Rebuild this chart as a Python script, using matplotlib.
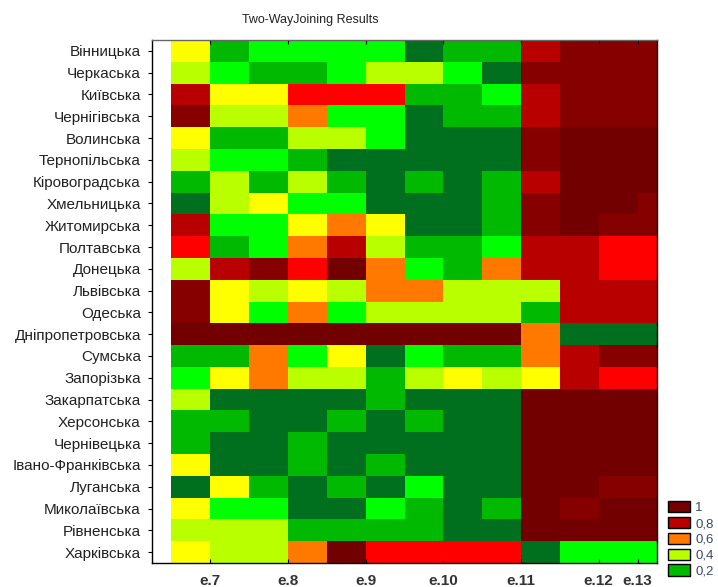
import numpy as np
import matplotlib
matplotlib.use("Agg")
import matplotlib.pyplot as plt
from matplotlib.colors import ListedColormap, BoundaryNorm
from matplotlib.patches import Patch

plt.rcParams['font.family'] = ['Liberation Sans', 'DejaVu Sans']

title = "Two-WayJoining Results"

regions = ["Вінницька", "Черкаська", "Київська", "Чернігівська", "Волинська",
           "Тернопільська", "Кіровоградська", "Хмельницька", "Житомирська",
           "Полтавська", "Донецька", "Львівська", "Одеська", "Дніпропетровська",
           "Сумська", "Запорізька", "Закарпатська", "Херсонська", "Чернівецька",
           "Івано-Франківська", "Луганська", "Миколаївська", "Рівненська",
           "Харківська"]

xtick_labels = ["e.7", "e.8", "e.9", "e.10", "e.11", "e.12", "e.13"]

values = [
    [0.5, 0.2, 0.3, 0.3, 0.3, 0.3, 0.1, 0.2, 0.2, 0.8, 0.9, 0.9, 0.9],
    [0.4, 0.3, 0.2, 0.2, 0.3, 0.4, 0.4, 0.3, 0.1, 0.9, 0.9, 0.9, 0.9],
    [0.8, 0.5, 0.5, 0.7, 0.7, 0.7, 0.2, 0.2, 0.3, 0.8, 0.9, 0.9, 0.9],
    [0.9, 0.4, 0.4, 0.6, 0.3, 0.3, 0.1, 0.2, 0.2, 0.8, 0.9, 0.9, 0.9],
    [0.5, 0.2, 0.2, 0.4, 0.4, 0.3, 0.1, 0.1, 0.1, 0.9, 1.0, 1.0, 1.0],
    [0.4, 0.3, 0.3, 0.2, 0.1, 0.1, 0.1, 0.1, 0.1, 0.9, 1.0, 1.0, 1.0],
    [0.2, 0.4, 0.2, 0.4, 0.2, 0.1, 0.2, 0.1, 0.2, 0.8, 1.0, 1.0, 1.0],
    [0.1, 0.4, 0.5, 0.3, 0.3, 0.1, 0.1, 0.1, 0.2, 0.9, 1.0, 1.0, 0.9],
    [0.8, 0.3, 0.3, 0.5, 0.6, 0.5, 0.1, 0.1, 0.2, 0.9, 1.0, 0.9, 0.9],
    [0.7, 0.2, 0.3, 0.6, 0.8, 0.4, 0.2, 0.2, 0.3, 0.8, 0.8, 0.7, 0.7],
    [0.4, 0.8, 0.9, 0.7, 1.0, 0.6, 0.3, 0.2, 0.6, 0.8, 0.8, 0.7, 0.7],
    [0.9, 0.5, 0.4, 0.5, 0.4, 0.6, 0.6, 0.4, 0.4, 0.4, 0.8, 0.8, 0.8],
    [0.9, 0.5, 0.3, 0.6, 0.3, 0.4, 0.4, 0.4, 0.4, 0.2, 0.8, 0.8, 0.8],
    [1.0, 1.0, 1.0, 1.0, 1.0, 1.0, 1.0, 1.0, 1.0, 0.6, 0.1, 0.1, 0.1],
    [0.2, 0.2, 0.6, 0.3, 0.5, 0.1, 0.3, 0.2, 0.2, 0.6, 0.8, 0.9, 0.9],
    [0.3, 0.5, 0.6, 0.4, 0.4, 0.2, 0.4, 0.5, 0.4, 0.5, 0.8, 0.7, 0.7],
    [0.4, 0.1, 0.1, 0.1, 0.1, 0.2, 0.1, 0.1, 0.1, 1.0, 1.0, 1.0, 1.0],
    [0.2, 0.2, 0.1, 0.1, 0.2, 0.1, 0.2, 0.1, 0.1, 1.0, 1.0, 1.0, 1.0],
    [0.2, 0.1, 0.1, 0.2, 0.1, 0.1, 0.1, 0.1, 0.1, 1.0, 1.0, 1.0, 1.0],
    [0.5, 0.1, 0.1, 0.2, 0.1, 0.2, 0.1, 0.1, 0.1, 1.0, 1.0, 1.0, 1.0],
    [0.1, 0.5, 0.2, 0.1, 0.2, 0.1, 0.3, 0.1, 0.1, 1.0, 1.0, 0.9, 0.9],
    [0.5, 0.3, 0.3, 0.1, 0.1, 0.3, 0.2, 0.1, 0.2, 1.0, 0.9, 1.0, 1.0],
    [0.4, 0.4, 0.4, 0.2, 0.2, 0.2, 0.2, 0.1, 0.1, 1.0, 1.0, 1.0, 1.0],
    [0.5, 0.4, 0.4, 0.6, 1.0, 0.7, 0.7, 0.7, 0.7, 0.1, 0.3, 0.3, 0.3],
]

legend_levels = [1.0, 0.8, 0.6, 0.4, 0.2]
legend_labels = ["1", "0,8", "0,6", "0,4", "0,2"]

level_colors = ["#00701e", "#00b900", "#00ff00", "#b9ff00", "#ffff00",
                "#ff7800", "#ff0000", "#b90000", "#870000", "#730000"]
bounds = np.arange(0.05, 1.06, 0.1)
cmap = ListedColormap(level_colors)
norm = BoundaryNorm(bounds, cmap.N)

data = np.array(values)
nrows, ncols = data.shape

fig = plt.figure(figsize=(7.18, 5.87), dpi=100)
ax = fig.add_axes([152/718, 24/587, 505/718, 523/587])

xe = np.arange(ncols + 1) + 0.5
ye = np.arange(nrows + 1)
ax.pcolormesh(xe, ye, data, cmap=cmap, norm=norm, edgecolors='none')
ax.set_xlim(0, 13)
ax.set_ylim(nrows, 0)

ax.set_xticks([1.5, 3.5, 5.5, 7.5, 9.5, 11.5, 12.5])
ax.set_xticklabels(xtick_labels, fontsize=11, color='#333333', fontweight='bold')
ax.tick_params(axis='x', direction='in', length=3, pad=8, top=True)

ax.set_yticks(np.arange(nrows) + 0.5)
ax.set_yticklabels(regions, fontsize=11, color='#222222')
ax.tick_params(axis='y', direction='out', length=3, pad=5, width=0.8)

for s in ax.spines.values():
    s.set_linewidth(1.0)
    s.set_color('black')
ax.spines['top'].set_color('#666666')

fig.text(310/718, 1 - 20/587, title, ha='center', va='center',
         fontsize=9, color='#222222')

handles = [Patch(facecolor=cmap(norm(v)), edgecolor='black', linewidth=1.0)
           for v in legend_levels]
fig.legend(handles, legend_labels, loc='upper left',
           bbox_to_anchor=(668/718, 1 - 501/587), frameon=False,
           fontsize=9.5, handlelength=1.7, handleheight=0.95,
           labelspacing=0.2, handletextpad=0.35, borderpad=0,
           borderaxespad=0, labelcolor='#3a4a6a')

fig.savefig("out.png", dpi=100)
